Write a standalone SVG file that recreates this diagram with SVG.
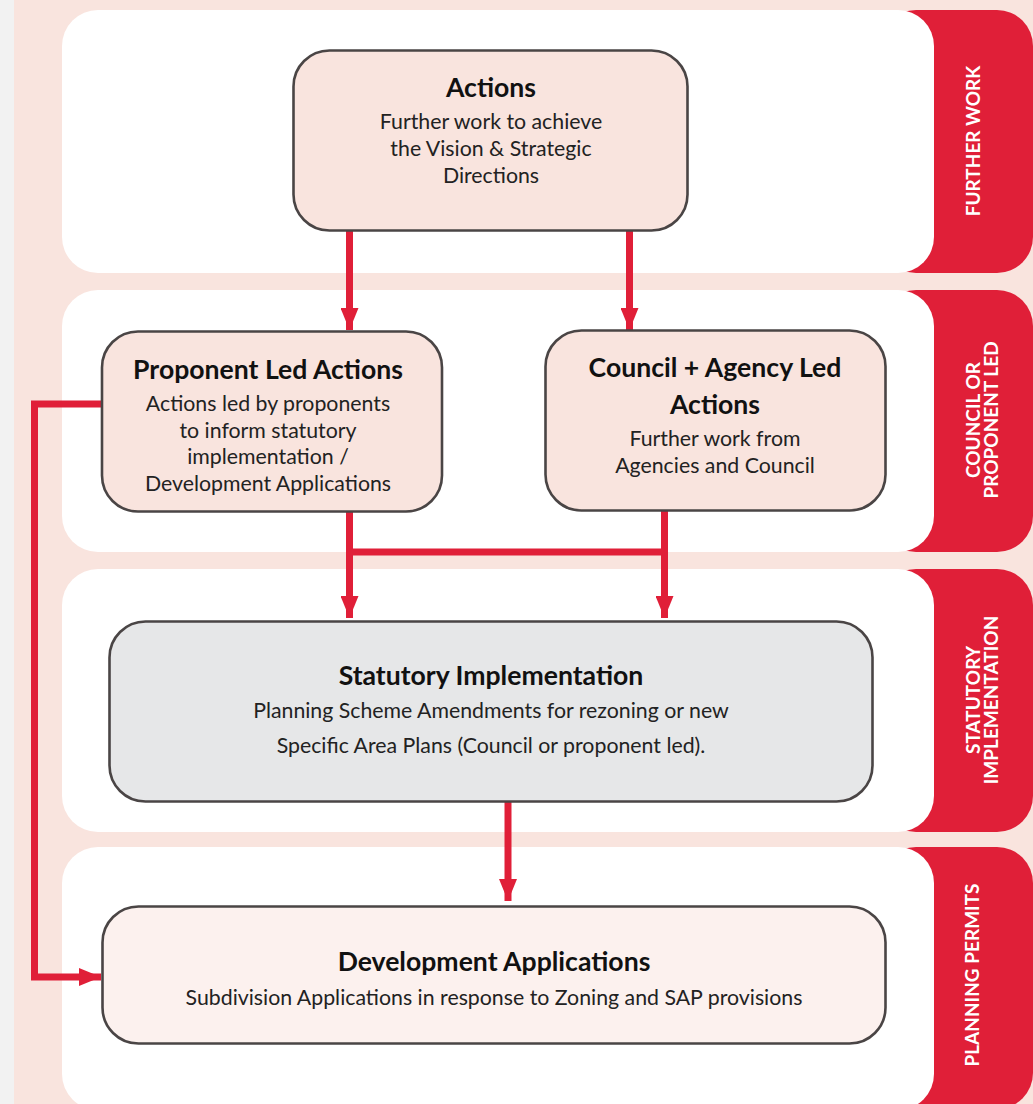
<svg xmlns="http://www.w3.org/2000/svg" width="1033" height="1104" viewBox="0 0 1033 1104">
<style>
.band{fill:#ffffff}
.tab{fill:#e01f38}
.tabt{fill:#ffffff;font-family:Lato,"Liberation Sans",sans-serif;font-weight:bold;font-size:19px;text-anchor:middle}
.node{stroke:#4a4545;stroke-width:2.6}
.t{font-family:Lato,"Liberation Sans",sans-serif;font-weight:bold;font-size:26.6px;fill:#111;text-anchor:middle}
.b{font-family:Lato,"Liberation Sans",sans-serif;font-size:21.3px;fill:#222;text-anchor:middle}
.c{stroke:#e01f38;stroke-width:7;fill:none}
</style>
<defs>
<marker id="ah" viewBox="0 0 22 18" refX="22" refY="9" markerWidth="22" markerHeight="18" markerUnits="userSpaceOnUse" orient="auto">
<path d="M0,0 L22,9 L0,18 Z" fill="#e01f38"/>
</marker>
</defs>
<rect x="0" y="0" width="1033" height="1104" fill="#f9e4de"/>
<rect x="0" y="0" width="14" height="1104" fill="#f2f2f2"/>
<g id="bands">
<rect class="tab" x="880" y="10" width="153" height="263" rx="36"/>
<rect class="band" x="62" y="10" width="872" height="263" rx="36"/>
<rect class="tab" x="880" y="290" width="153" height="262" rx="36"/>
<rect class="band" x="62" y="290" width="872" height="262" rx="36"/>
<rect class="tab" x="880" y="569" width="153" height="263" rx="36"/>
<rect class="band" x="62" y="569" width="872" height="263" rx="36"/>
<rect class="tab" x="880" y="847" width="153" height="262" rx="36"/>
<rect class="band" x="62" y="847" width="872" height="263" rx="36"/>
</g>
<g id="tab-labels">
<text class="tabt" transform="translate(980,141) rotate(-90)">FURTHER WORK</text>
<text class="tabt" transform="translate(980,420) rotate(-90)">COUNCIL OR</text>
<text class="tabt" transform="translate(998,420) rotate(-90)">PROPONENT LED</text>
<text class="tabt" transform="translate(980,700) rotate(-90)">STATUTORY</text>
<text class="tabt" transform="translate(998,700) rotate(-90)">IMPLEMENTATION</text>
<text class="tabt" transform="translate(979,975) rotate(-90)">PLANNING PERMITS</text>
</g>
<g id="connectors">
<line class="c" x1="349.5" y1="231" x2="349.5" y2="330" marker-end="url(#ah)"/>
<line class="c" x1="629.5" y1="231" x2="629.5" y2="330" marker-end="url(#ah)"/>
<line class="c" x1="349.5" y1="512" x2="349.5" y2="618" marker-end="url(#ah)"/>
<line class="c" x1="664.5" y1="510" x2="664.5" y2="618" marker-end="url(#ah)"/>
<line class="c" x1="349.5" y1="552" x2="664.5" y2="552"/>
<line class="c" x1="508" y1="801" x2="508" y2="901" marker-end="url(#ah)"/>
<polyline class="c" points="102,404 34.5,404 34.5,977 101,977" marker-end="url(#ah)"/>
</g>
<g id="node-actions">
<rect class="node" x="293.5" y="50.5" width="394" height="180" rx="36" fill="#f9e4de"/>
<text class="t" x="491" y="97">Actions</text>
<text class="b" x="491" y="129">Further work to achieve</text>
<text class="b" x="491" y="156">the Vision &amp; Strategic</text>
<text class="b" x="491" y="183">Directions</text>
</g>
<g id="node-proponent">
<rect class="node" x="102" y="331.5" width="340" height="180" rx="36" fill="#f9e4de"/>
<text class="t" x="268" y="379">Proponent Led Actions</text>
<text class="b" x="268" y="411">Actions led by proponents</text>
<text class="b" x="268" y="438">to inform statutory</text>
<text class="b" x="268" y="464">implementation /</text>
<text class="b" x="268" y="491">Development Applications</text>
</g>
<g id="node-council">
<rect class="node" x="545.5" y="330.5" width="340" height="180" rx="36" fill="#f9e4de"/>
<text class="t" x="715" y="377">Council + Agency Led</text>
<text class="t" x="715" y="414">Actions</text>
<text class="b" x="715" y="446">Further work from</text>
<text class="b" x="715" y="473">Agencies and Council</text>
</g>
<g id="node-statutory">
<rect class="node" x="109.5" y="621.5" width="763" height="180" rx="36" fill="#e6e7e8"/>
<text class="t" x="491" y="685">Statutory Implementation</text>
<text class="b" x="491" y="718">Planning Scheme Amendments for rezoning or new</text>
<text class="b" x="491" y="753">Specific Area Plans (Council or proponent led).</text>
</g>
<g id="node-devapps">
<rect class="node" x="102.5" y="906.5" width="783" height="137" rx="36" fill="#fcf1ee"/>
<text class="t" x="494" y="971">Development Applications</text>
<text class="b" x="494" y="1005">Subdivision Applications in response to Zoning and SAP provisions</text>
</g>
</svg>
